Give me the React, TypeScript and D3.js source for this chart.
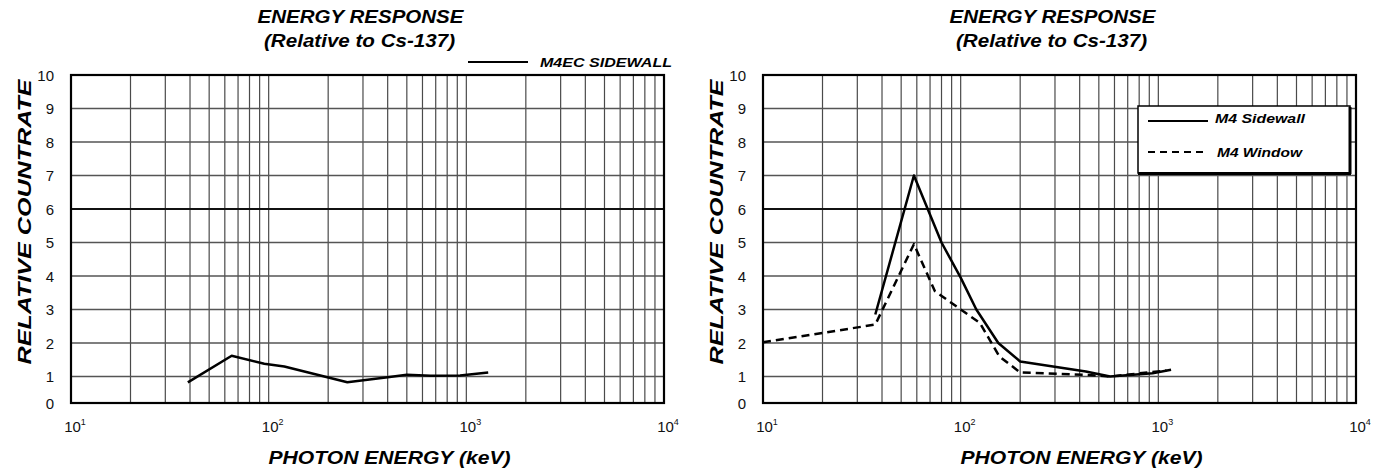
import React from "react";
import * as d3 from "d3";

// energies in keV, values relative to Cs-137
const m4ecEnergy = [39, 65, 95, 120, 250, 400, 500, 660, 930, 1290];
const m4ecSidewall = [0.78, 1.62, 1.38, 1.3, 0.78, 0.97, 1.05, 1.02, 1.03, 1.12];

const sidewallEnergy = [37, 58, 80, 100, 120, 155, 200, 430, 570, 935, 1160];
const m4Sidewall = [2.85, 7.0, 5.0, 3.95, 3.0, 2.0, 1.45, 1.15, 1.0, 1.1, 1.2];

const windowEnergy = [10, 37, 58, 74, 100, 125, 157, 200, 430, 570, 1100];
const m4Window = [2.02, 2.55, 4.95, 3.55, 3.0, 2.6, 1.6, 1.12, 1.05, 1.0, 1.18];

const xDecades = [10, 100, 1000, 10000];
const xExponents = ["1", "2", "3", "4"];
const yTicks = [0, 1, 2, 3, 4, 5, 6, 7, 8, 9, 10];

const FONT = "'Liberation Sans', Arial, sans-serif";
const TOP = 75;
const BOTTOM = 403;
const PLOT_W = 593;

// the scanned axis has a short 0-1 band, so use a polylinear scale
const y = d3.scaleLinear().domain([0, 1, 10]).range([BOTTOM, 376.5, TOP]);

type Series = { energy: number[]; values: number[]; dash?: string };

function Panel({ left, series, legend }: { left: number; series: Series[]; legend: React.ReactNode }) {
  const x = d3.scaleLog().domain([10, 10000]).range([left, left + PLOT_W]);
  const minor: number[] = [];
  xDecades.slice(0, 3).forEach((d) => {
    for (let k = 1; k <= 9; k++) if (d * k > 10) minor.push(d * k);
  });
  const cx = left + PLOT_W / 2;

  return (
    <g>
      <text x={cx - 7} y={23} textAnchor="middle" fontFamily={FONT} fontWeight="bold" fontStyle="italic"
        fontSize={18} textLength={206} lengthAdjust="spacingAndGlyphs" fill="#000">ENERGY RESPONSE</text>
      <text x={cx - 8} y={47} textAnchor="middle" fontFamily={FONT} fontWeight="bold" fontStyle="italic"
        fontSize={18} textLength={191} lengthAdjust="spacingAndGlyphs" fill="#000">(Relative to Cs-137)</text>

      {/* grid */}
      {minor.map((v) => (
        <line key={"v" + v} x1={x(v)} x2={x(v)} y1={TOP} y2={BOTTOM} stroke="#4a4a4a" strokeWidth={1.2} />
      ))}
      {yTicks.slice(1, 10).map((t) => (
        <line key={"h" + t} x1={left} x2={left + PLOT_W} y1={y(t)} y2={y(t)}
          stroke={t === 6 ? "#111" : "#555"} strokeWidth={t === 6 ? 2.2 : 1.3} />
      ))}
      <rect x={left} y={TOP} width={PLOT_W} height={BOTTOM - TOP} fill="none" stroke="#000" strokeWidth={2.2} />

      {/* y ticks */}
      {yTicks.map((t) => (
        <text key={"yt" + t} x={left - 17} y={y(t) + 5.5} textAnchor="end" fontFamily={FONT} fontSize={15} fill="#111">{t}</text>
      ))}
      <text transform={`translate(${left - 40},222) rotate(-90)`} textAnchor="middle" fontFamily={FONT}
        fontWeight="bold" fontStyle="italic" fontSize={19} textLength={285} lengthAdjust="spacingAndGlyphs"
        fill="#000">RELATIVE COUNTRATE</text>

      {/* x ticks */}
      {xDecades.map((d, i) => (
        <text key={"xt" + d} x={x(d) + 4} y={432} textAnchor="middle" fontFamily={FONT} fontSize={15} fill="#111">
          10<tspan fontSize={9} dy={-7}>{xExponents[i]}</tspan>
        </text>
      ))}
      <text x={cx + 22} y={464} textAnchor="middle" fontFamily={FONT} fontWeight="bold" fontStyle="italic"
        fontSize={18} textLength={242} lengthAdjust="spacingAndGlyphs" fill="#000">PHOTON ENERGY (keV)</text>

      {series.map((s, i) => {
        const line = d3
          .line<number>()
          .x((_, j) => x(s.energy[j]))
          .y((v) => y(v));
        return (
          <path key={"s" + i} d={line(s.values) || ""} fill="none" stroke="#000" strokeWidth={2.5}
            strokeDasharray={s.dash} strokeLinejoin="round" />
        );
      })}
      {legend}
    </g>
  );
}

export default function App() {
  const leftLegend = (
    <g>
      <line x1={468} x2={528} y1={62} y2={62} stroke="#000" strokeWidth={2} />
      <text x={540} y={66.5} fontFamily={FONT} fontWeight="bold" fontStyle="italic" fontSize={13}
        textLength={132} lengthAdjust="spacingAndGlyphs" fill="#000">M4EC SIDEWALL</text>
    </g>
  );
  const rightLegend = (
    <g>
      <rect x={1138} y={106} width={212} height={67} fill="#fff" stroke="#000" strokeWidth={1.5} />
      <line x1={1350} x2={1350} y1={107} y2={174} stroke="#000" strokeWidth={3} />
      <line x1={1138} x2={1351} y1={173.5} y2={173.5} stroke="#000" strokeWidth={3} />
      <line x1={1148} x2={1208} y1={121} y2={121} stroke="#000" strokeWidth={2} />
      <text x={1215} y={122.5} fontFamily={FONT} fontWeight="bold" fontStyle="italic" fontSize={13}
        textLength={90} lengthAdjust="spacingAndGlyphs" fill="#000">M4 Sidewall</text>
      <line x1={1148} x2={1208} y1={152} y2={152} stroke="#000" strokeWidth={2} strokeDasharray="7,5" />
      <text x={1217} y={156.5} fontFamily={FONT} fontWeight="bold" fontStyle="italic" fontSize={13}
        textLength={85} lengthAdjust="spacingAndGlyphs" fill="#000">M4 Window</text>
    </g>
  );

  return (
    <svg width={1379} height={471} style={{ position: "absolute", left: 0, top: 0, background: "#fff" }}>
      <rect width={1379} height={471} fill="#fff" />
      <Panel left={71} series={[{ energy: m4ecEnergy, values: m4ecSidewall }]} legend={leftLegend} />
      <Panel
        left={763}
        series={[
          { energy: windowEnergy, values: m4Window, dash: "8,5" },
          { energy: sidewallEnergy, values: m4Sidewall },
        ]}
        legend={rightLegend}
      />
    </svg>
  );
}
